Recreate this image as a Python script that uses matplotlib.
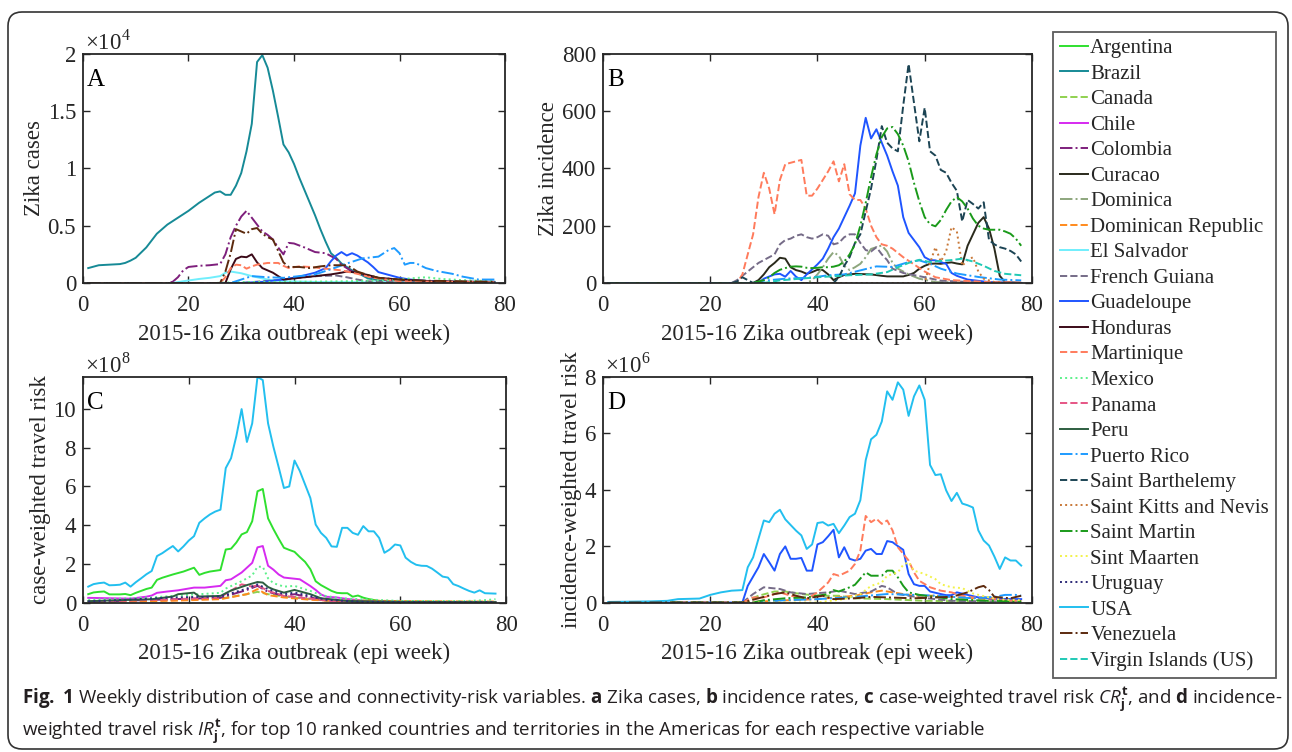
"""
Zika 周报分布图 (Fig. 1): 病例、发病率、病例加权旅行风险、发病率加权旅行风险。
"""

import numpy as np
import matplotlib

matplotlib.use("Agg")
import matplotlib.pyplot as plt
import matplotlib.font_manager as fm
from matplotlib.lines import Line2D
from matplotlib.patches import FancyBboxPatch
from matplotlib.ticker import FuncFormatter
from matplotlib.transforms import IdentityTransform

SERIF = "Liberation Serif"
CAPTION = "Open Sans"
try:
    fm.findfont(CAPTION, fallback_to_default=False)
except Exception:
    CAPTION = "Liberation Sans"

plt.rcParams["font.family"] = [SERIF, "DejaVu Serif"]
plt.rcParams["mathtext.fontset"] = "custom"
plt.rcParams["mathtext.rm"] = SERIF
plt.rcParams["mathtext.it"] = f"{CAPTION}:italic"
plt.rcParams["mathtext.bf"] = f"{CAPTION}:bold"

# ── 数据 (week, value) ───────────────────────────────────────────────

# A: Zika cases
cases_brazil = [(1, 1300), (3, 1550), (5, 1600), (7, 1650), (8, 1750), (9, 1950), (10, 2200),
                (11, 2650), (12, 3100), (14, 4300), (16, 5100), (18, 5700), (20, 6300), (22, 7000),
                (24, 7600), (25, 7900), (26, 8000), (27, 7700), (28, 7700), (29, 8500), (30, 9600),
                (31, 11500), (32, 13900), (33, 19300), (34, 19900), (35, 18800), (36, 16800),
                (37, 14500), (38, 12100), (39, 11400), (40, 10400), (41, 9200), (42, 8100),
                (43, 7000), (44, 5900), (45, 4700), (46, 3600), (47, 2600), (48, 2200), (49, 1700),
                (50, 1400), (51, 1100), (52, 900), (54, 400), (56, 250), (60, 150), (70, 100),
                (78, 100)]
cases_colombia = [(1, 0), (16, 0), (17, 100), (18, 500), (19, 1100), (20, 1400), (22, 1500),
                  (24, 1550), (26, 1650), (27, 2500), (28, 4000), (29, 5000), (30, 5800),
                  (31, 6300), (32, 5700), (33, 5100), (34, 4500), (35, 4200), (36, 3800),
                  (37, 3100), (38, 2500), (39, 3500), (40, 3450), (42, 3100), (44, 2700),
                  (46, 2600), (48, 2100), (49, 1600), (51, 1000), (54, 600), (57, 300), (62, 150),
                  (78, 100)]
cases_venezuela = [(1, 0), (26, 0), (27, 1000), (28, 2600), (29, 4700), (30, 4500), (31, 4300),
                   (32, 4700), (33, 4800), (34, 4300), (35, 4000), (36, 3800), (37, 2800),
                   (38, 1800), (39, 1400), (41, 1400), (43, 1300), (45, 1450), (47, 1550),
                   (49, 1550), (50, 1550), (51, 1300), (52, 1000), (54, 700), (56, 450), (60, 300),
                   (65, 200), (78, 100)]
cases_honduras = [(1, 0), (27, 0), (28, 1200), (29, 2100), (30, 2300), (31, 2250), (32, 2500),
                  (33, 1800), (34, 1300), (35, 1100), (36, 900), (38, 300), (41, 450), (44, 600),
                  (47, 750), (49, 900), (50, 1000), (52, 900), (54, 700), (56, 450), (60, 300),
                  (66, 150), (78, 50)]
cases_martinique = [(1, 0), (26, 0), (27, 500), (28, 1300), (29, 1600), (30, 1550), (31, 1250),
                    (32, 1450), (33, 1600), (35, 1750), (37, 1750), (38, 1500), (39, 1300),
                    (41, 1450), (43, 1400), (45, 1300), (47, 1200), (49, 1100), (50, 1000),
                    (52, 800), (55, 450), (60, 150), (78, 50)]
cases_el_salvador = [(1, 0), (17, 0), (19, 150), (22, 350), (24, 450), (26, 600), (27, 900),
                     (28, 1000), (30, 850), (32, 600), (35, 300), (38, 150), (45, 80), (78, 50)]
cases_guadeloupe = [(1, 0), (30, 0), (34, 100), (38, 300), (41, 550), (44, 900), (46, 1300),
                    (47, 1900), (48, 2400), (49, 2700), (50, 2400), (51, 2600), (52, 2400),
                    (53, 2100), (54, 1800), (55, 1400), (56, 950), (58, 700), (60, 450), (62, 300),
                    (66, 150), (73, 50), (78, 20)]
cases_puerto_rico = [(1, 0), (28, 0), (30, 300), (32, 600), (35, 500), (38, 450), (41, 600),
                     (44, 750), (47, 1200), (50, 1700), (53, 2150), (56, 2300), (57, 2600),
                     (58, 2900), (59, 3050), (60, 2600), (61, 1600), (62, 1750), (63, 1750),
                     (65, 1300), (67, 1050), (70, 800), (72, 550), (75, 300), (78, 300)]
cases_french_guiana = [(1, 0), (30, 0), (34, 150), (38, 300), (42, 500), (45, 620), (48, 650),
                       (50, 500), (52, 300), (54, 150), (60, 50), (78, 20)]
cases_mexico = [(1, 0), (25, 0), (30, 80), (40, 100), (50, 150), (58, 250), (62, 400), (65, 500),
                (68, 350), (72, 250), (78, 150)]

# B: Zika incidence
inc_martinique = [(1, 0), (25, 0), (26, 30), (27, 100), (28, 170), (29, 300), (30, 385), (31, 330),
                  (32, 240), (33, 360), (34, 415), (35, 420), (36, 425), (37, 430), (38, 305),
                  (39, 305), (40, 330), (41, 360), (42, 390), (43, 425), (44, 355), (45, 415),
                  (46, 310), (47, 290), (48, 290), (49, 260), (50, 200), (51, 160), (52, 135),
                  (53, 130), (54, 120), (56, 90), (58, 65), (60, 40), (62, 20), (65, 10), (72, 3),
                  (78, 2)]
inc_french_guiana = [(1, 0), (24, 0), (25, 10), (27, 40), (29, 70), (31, 90), (32, 100), (33, 135),
                     (34, 150), (35, 155), (36, 165), (37, 170), (38, 160), (39, 155), (40, 160),
                     (41, 170), (42, 165), (43, 135), (44, 140), (45, 160), (46, 170), (47, 170),
                     (48, 140), (49, 115), (50, 110), (51, 125), (52, 100), (53, 80), (54, 50),
                     (56, 35), (60, 20), (63, 8), (70, 2), (78, 0)]
inc_curacao = [(1, 0), (28, 0), (29, 10), (30, 30), (31, 55), (32, 70), (33, 88), (34, 85), (35, 55),
               (36, 45), (37, 40), (38, 32), (39, 38), (40, 46), (41, 45), (42, 30), (43, 10),
               (44, 20), (45, 28), (47, 32), (50, 30), (52, 25), (53, 23), (56, 23), (57, 28),
               (58, 35), (59, 50), (60, 60), (61, 67), (62, 68), (63, 67), (64, 70), (65, 72),
               (66, 68), (67, 65), (68, 130), (69, 170), (70, 210), (71, 230), (72, 190), (73, 120),
               (74, 25), (75, 3), (78, 0)]
inc_guadeloupe = [(1, 0), (29, 0), (30, 15), (32, 30), (33, 32), (34, 22), (35, 42), (36, 22),
                  (37, 10), (38, 30), (40, 65), (41, 85), (42, 120), (43, 160), (44, 190), (45, 230),
                  (46, 270), (47, 313), (48, 480), (49, 577), (50, 505), (51, 537), (52, 490),
                  (53, 445), (54, 390), (55, 340), (56, 230), (57, 175), (58, 150), (59, 125),
                  (60, 90), (61, 80), (62, 79), (64, 67), (65, 35), (66, 25), (68, 12), (72, 3),
                  (78, 0)]
inc_saint_martin = [(1, 0), (28, 0), (30, 10), (31, 20), (32, 35), (33, 46), (34, 52), (35, 57),
                    (36, 58), (37, 57), (38, 53), (39, 52), (40, 53), (41, 55), (42, 55), (43, 57),
                    (44, 62), (45, 75), (46, 100), (47, 135), (48, 200), (49, 280), (50, 370),
                    (51, 450), (52, 510), (53, 540), (54, 545), (55, 520), (56, 480), (57, 425),
                    (58, 350), (59, 285), (60, 230), (61, 205), (62, 198), (63, 220), (64, 255),
                    (65, 285), (66, 300), (67, 285), (68, 260), (69, 225), (70, 200), (71, 190),
                    (72, 186), (74, 186), (75, 180), (76, 172), (77, 155), (78, 130)]
inc_saint_barthelemy = [(1, 0), (24, 0), (25, 5), (26, 20), (27, 10), (28, 0), (43, 0), (44, 20),
                        (45, 60), (46, 90), (47, 140), (48, 170), (49, 250), (50, 330), (51, 430),
                        (52, 548), (53, 490), (54, 470), (55, 460), (56, 620), (57, 765),
                        (58, 630), (59, 495), (60, 612), (61, 460), (62, 445), (63, 395),
                        (64, 385), (65, 350), (66, 322), (67, 215), (68, 290), (69, 276),
                        (70, 260), (71, 282), (72, 150), (73, 135), (74, 125), (75, 120),
                        (76, 112), (77, 100), (78, 75)]
inc_dominica = [(1, 0), (38, 0), (39, 10), (40, 30), (41, 55), (42, 85), (43, 108), (44, 95),
                (45, 60), (46, 45), (47, 55), (48, 67), (49, 90), (50, 119), (51, 125), (52, 131),
                (53, 110), (54, 70), (55, 50), (57, 30), (59, 15), (62, 3), (78, 0)]
inc_puerto_rico = [(1, 0), (28, 0), (30, 8), (34, 15), (39, 19), (42, 27), (45, 30), (48, 44),
                   (51, 58), (54, 56), (57, 73), (59, 79), (61, 67), (63, 50), (66, 33), (70, 21),
                   (74, 12), (78, 9)]
inc_virgin_islands = [(1, 0), (30, 0), (33, 9), (40, 20), (46, 27), (50, 30), (53, 38), (55, 55),
                      (57, 70), (59, 81), (61, 73), (63, 77), (65, 80), (67, 85), (69, 75),
                      (71, 60), (73, 42), (75, 32), (78, 27)]
inc_saint_kitts = [(1, 0), (60, 0), (61, 70), (62, 125), (63, 75), (64, 110), (65, 195), (66, 180),
                   (67, 60), (68, 80), (69, 90), (70, 40), (71, 15), (73, 3), (78, 0)]

# C: case-weighted travel risk (x1e8)
cr_usa = [(1, 0.82), (2, 0.95), (3, 1.0), (4, 1.03), (5, 0.89), (6, 0.9), (7, 0.92), (8, 1.03),
          (9, 0.82), (10, 1.05), (11, 1.25), (12, 1.46), (13, 1.63), (14, 2.4), (15, 2.55),
          (16, 2.74), (17, 2.92), (18, 2.64), (19, 2.9), (20, 3.2), (21, 3.43), (22, 4.12),
          (23, 4.35), (24, 4.55), (25, 4.7), (26, 4.8), (27, 6.95), (28, 7.46), (29, 8.6),
          (30, 10.0), (31, 8.3), (32, 9.26), (33, 11.66), (34, 11.5), (35, 9.26), (36, 8.06),
          (37, 7.0), (38, 5.92), (39, 6.0), (40, 7.34), (41, 6.8), (42, 6.1), (43, 5.4),
          (44, 4.03), (45, 3.6), (46, 3.34), (47, 2.9), (48, 2.88), (49, 3.86), (50, 3.86),
          (51, 3.6), (52, 3.5), (53, 3.95), (54, 3.68), (55, 3.68), (56, 3.34), (57, 2.57),
          (58, 2.74), (59, 3.0), (60, 2.95), (61, 2.32), (62, 2.1), (63, 1.95), (64, 1.9),
          (65, 1.89), (66, 1.75), (67, 1.55), (68, 1.34), (69, 1.29), (70, 0.95), (71, 0.85),
          (72, 0.72), (73, 0.6), (74, 0.51), (75, 0.63), (76, 0.48), (77, 0.47), (78, 0.46)]
cr_argentina = [(1, 0.43), (2, 0.52), (3, 0.55), (4, 0.57), (5, 0.42), (7, 0.42), (8, 0.44),
                (9, 0.38), (10, 0.5), (11, 0.6), (12, 0.7), (13, 0.77), (14, 1.17), (15, 1.28),
                (17, 1.45), (19, 1.6), (21, 1.8), (22, 1.43), (23, 1.53), (24, 1.6), (26, 1.68),
                (27, 2.74), (28, 2.78), (29, 3.1), (30, 3.52), (31, 3.64), (32, 4.2), (33, 5.75),
                (34, 5.87), (35, 4.35), (36, 3.8), (37, 3.3), (38, 2.83), (39, 2.72), (40, 2.62),
                (41, 2.35), (42, 2.1), (43, 1.72), (44, 1.1), (45, 0.9), (46, 0.75), (47, 0.6),
                (48, 0.5), (49, 0.48), (50, 0.48), (51, 0.3), (52, 0.36), (53, 0.25), (54, 0.18),
                (56, 0.08), (60, 0.04), (78, 0.02)]
cr_chile = [(1, 0.24), (5, 0.22), (9, 0.2), (12, 0.3), (13, 0.36), (14, 0.5), (16, 0.57),
            (18, 0.63), (21, 0.77), (23, 0.77), (26, 0.86), (27, 1.15), (28, 1.2), (30, 1.55),
            (32, 2.05), (33, 2.85), (34, 2.92), (35, 1.9), (36, 1.7), (37, 1.45), (38, 1.29),
            (40, 1.23), (41, 1.2), (43, 0.85), (44, 0.65), (45, 0.42), (46, 0.3), (48, 0.26),
            (50, 0.18), (53, 0.1), (56, 0.04), (78, 0.02)]
cr_mexico = [(1, 0.14), (13, 0.26), (17, 0.34), (26, 0.5), (27, 0.72), (28, 0.85), (30, 1.1),
             (32, 1.4), (33, 1.85), (34, 1.85), (35, 1.25), (36, 1.0), (38, 0.82), (40, 0.86),
             (42, 0.68), (43, 0.6), (45, 0.38), (48, 0.25), (50, 0.2), (60, 0.08), (72, 0.07),
             (76, 0.12), (78, 0.17)]
cr_peru = [(1, 0.07), (13, 0.17), (17, 0.31), (18, 0.43), (21, 0.51), (22, 0.31), (26, 0.34),
           (28, 0.62), (31, 0.9), (33, 1.06), (34, 1.03), (35, 0.8), (36, 0.68), (38, 0.51),
           (40, 0.65), (43, 0.43), (45, 0.22), (50, 0.08), (60, 0.03), (78, 0.02)]
cr_uruguay = [(1, 0.05), (17, 0.26), (22, 0.29), (26, 0.31), (31, 0.72), (33, 0.94), (35, 0.69),
              (38, 0.43), (40, 0.51), (43, 0.34), (46, 0.14), (53, 0.03), (78, 0.02)]
cr_canada = [(1, 0.03), (17, 0.14), (26, 0.2), (31, 0.43), (33, 0.55), (35, 0.43), (38, 0.31),
             (43, 0.17), (47, 0.07), (60, 0.03), (78, 0.02)]
cr_panama = [(1, 0.03), (17, 0.17), (26, 0.26), (27, 0.45), (30, 0.94), (32, 0.82), (33, 0.89),
             (35, 0.6), (38, 0.34), (43, 0.2), (47, 0.07), (60, 0.03), (78, 0.02)]
cr_dominican_rep = [(1, 0.02), (17, 0.09), (26, 0.17), (31, 0.43), (33, 0.69), (35, 0.38),
                    (38, 0.26), (43, 0.14), (47, 0.09), (54, 0.1), (60, 0.07), (78, 0.05)]
cr_colombia = [(1, 0.03), (17, 0.17), (26, 0.24), (31, 0.65), (33, 0.86), (35, 0.55), (38, 0.34),
               (40, 0.43), (43, 0.26), (46, 0.1), (53, 0.03), (78, 0.02)]

# D: incidence-weighted travel risk (x1e6)
ir_usa = [(1, 0.02), (9, 0.04), (12, 0.06), (14, 0.12), (18, 0.14), (20, 0.27), (22, 0.36),
          (24, 0.42), (26, 0.44), (27, 1.25), (28, 1.6), (29, 2.26), (30, 2.91), (31, 2.85),
          (32, 3.15), (33, 3.29), (34, 2.95), (35, 2.75), (36, 2.55), (37, 2.38), (38, 1.9),
          (39, 2.06), (40, 2.82), (41, 2.85), (42, 2.73), (43, 2.79), (44, 2.46), (45, 2.73),
          (46, 3.03), (47, 3.15), (48, 3.63), (49, 5.05), (50, 5.79), (51, 5.95), (52, 6.42),
          (53, 7.49), (54, 7.19), (55, 7.81), (56, 7.55), (57, 6.62), (58, 7.31), (59, 7.7),
          (60, 7.19), (61, 4.88), (62, 4.52), (63, 4.55), (64, 3.98), (65, 3.6), (66, 3.89),
          (67, 3.51), (68, 3.45), (69, 3.37), (70, 2.56), (71, 2.2), (72, 2.02), (73, 1.63),
          (74, 1.19), (75, 1.6), (76, 1.49), (77, 1.49), (78, 1.31)]
ir_guadeloupe = [(1, 0), (26, 0), (27, 0.59), (29, 1.25), (30, 1.72), (31, 1.43), (32, 1.13),
                 (33, 1.72), (34, 1.99), (35, 1.55), (36, 1.55), (37, 1.58), (38, 1.13), (39, 1.13),
                 (40, 2.06), (41, 2.14), (42, 2.35), (43, 2.58), (44, 1.6), (45, 1.96), (46, 1.55),
                 (47, 1.49), (48, 1.55), (49, 1.84), (50, 1.9), (51, 1.72), (52, 1.72), (53, 2.18),
                 (54, 2.14), (55, 2.0), (56, 1.87), (57, 1.01), (58, 0.65), (59, 0.59), (60, 0.59),
                 (61, 0.39), (63, 0.3), (64, 0.26), (65, 0.26), (66, 0.36), (68, 0.27), (70, 0.18),
                 (73, 0.13), (78, 0.12)]
ir_martinique = [(1, 0), (26, 0), (28, 0.18), (30, 0.18), (33, 0.36), (35, 0.24), (38, 0.12),
                 (40, 0.36), (42, 0.71), (43, 1.01), (44, 0.95), (46, 1.13), (47, 1.37), (48, 1.84),
                 (49, 3.07), (50, 2.85), (51, 2.97), (52, 2.79), (53, 2.91), (54, 2.56), (55, 1.96),
                 (57, 1.49), (58, 1.07), (59, 0.77), (61, 0.54), (63, 0.42), (65, 0.36), (67, 0.24),
                 (69, 0.18), (72, 0.18), (74, 0.08), (78, 0.06)]
ir_sint_maarten = [(1, 0), (40, 0), (45, 0.12), (48, 0.3), (50, 0.59), (52, 0.71), (53, 0.95),
                   (55, 1.07), (56, 1.34), (57, 1.43), (58, 1.13), (60, 1.01), (62, 0.83),
                   (63, 0.65), (65, 0.54), (67, 0.51), (69, 0.32), (72, 0.18), (74, 0.11),
                   (78, 0.08)]
ir_saint_martin = [(1, 0), (28, 0), (30, 0.08), (34, 0.15), (38, 0.18), (42, 0.3), (43, 0.44),
                   (44, 0.39), (46, 0.54), (47, 0.63), (49, 1.07), (50, 0.95), (52, 0.95),
                   (53, 1.13), (54, 1.13), (55, 0.89), (56, 0.59), (57, 0.36), (59, 0.27),
                   (62, 0.2), (65, 0.12), (72, 0.06), (78, 0.04)]
ir_french_guiana = [(1, 0), (26, 0), (28, 0.3), (30, 0.54), (33, 0.48), (35, 0.36), (38, 0.3),
                    (42, 0.36), (44, 0.42), (47, 0.3), (50, 0.39), (52, 0.59), (53, 0.54),
                    (55, 0.3), (59, 0.18), (65, 0.06), (78, 0.02)]
ir_canada = [(1, 0), (26, 0), (29, 0.24), (32, 0.39), (34, 0.39), (37, 0.3), (40, 0.24), (44, 0.24),
             (47, 0.15), (53, 0.12), (60, 0.06), (78, 0.02)]
ir_dominican_rep = [(1, 0), (26, 0), (32, 0.06), (40, 0.12), (47, 0.24), (50, 0.36), (52, 0.42),
                    (54, 0.36), (58, 0.24), (62, 0.24), (65, 0.2), (72, 0.12), (78, 0.08)]
ir_puerto_rico = [(1, 0), (27, 0), (34, 0.08), (40, 0.12), (47, 0.2), (53, 0.3), (58, 0.27),
                  (62, 0.24), (65, 0.2), (69, 0.15), (73, 0.2), (75, 0.27), (77, 0.27), (78, 0.24)]
ir_venezuela = [(1, 0), (26, 0), (29, 0.15), (32, 0.3), (34, 0.36), (36, 0.24), (38, 0.15),
                (41, 0.24), (43, 0.12), (47, 0.15), (50, 0.2), (53, 0.18), (58, 0.15), (62, 0.18),
                (65, 0.2), (68, 0.36), (70, 0.54), (71, 0.59), (72, 0.44), (73, 0.2), (76, 0.15),
                (78, 0.24)]

COUNTRIES = ["Argentina", "Brazil", "Canada", "Chile", "Colombia", "Curacao", "Dominica",
             "Dominican Republic", "El Salvador", "French Guiana", "Guadeloupe", "Honduras",
             "Martinique", "Mexico", "Panama", "Peru", "Puerto Rico", "Saint Barthelemy",
             "Saint Kitts and Nevis", "Saint Martin", "Sint Maarten", "Uruguay", "USA",
             "Venezuela", "Virgin Islands (US)"]

# ── 样式 ──────────────────────────────────────────────────────────────

STYLE = {
    "Argentina": ("#2fe02f", "-"),
    "Brazil": ("#168a96", "-"),
    "Canada": ("#8fd14f", "--"),
    "Chile": ("#d62af0", "-"),
    "Colombia": ("#7e1f7c", "-."),
    "Curacao": ("#2a2a1c", "-"),
    "Dominica": ("#8da67d", "-."),
    "Dominican Republic": ("#ff8a1c", "--"),
    "El Salvador": ("#70eefc", "-"),
    "French Guiana": ("#756b87", "--"),
    "Guadeloupe": ("#1f55ff", "-"),
    "Honduras": ("#3b0a18", "-"),
    "Martinique": ("#ff7b5c", "--"),
    "Mexico": ("#5cf08a", ":"),
    "Panama": ("#e65585", "--"),
    "Peru": ("#2d5e40", "-"),
    "Puerto Rico": ("#1e9bff", "-."),
    "Saint Barthelemy": ("#1c4454", "--"),
    "Saint Kitts and Nevis": ("#c87838", ":"),
    "Saint Martin": ("#1a9a1a", "-."),
    "Sint Maarten": ("#f2f24a", ":"),
    "Uruguay": ("#2d2a78", ":"),
    "USA": ("#22bfef", "-"),
    "Venezuela": ("#5c2a0e", "-."),
    "Virgin Islands (US)": ("#20c9b5", "--"),
}

CASES = {"Brazil": cases_brazil, "Colombia": cases_colombia, "Venezuela": cases_venezuela,
         "Honduras": cases_honduras, "Martinique": cases_martinique,
         "El Salvador": cases_el_salvador, "Guadeloupe": cases_guadeloupe,
         "Puerto Rico": cases_puerto_rico, "French Guiana": cases_french_guiana,
         "Mexico": cases_mexico}
INCIDENCE = {"Martinique": inc_martinique, "French Guiana": inc_french_guiana,
             "Curacao": inc_curacao, "Guadeloupe": inc_guadeloupe,
             "Saint Martin": inc_saint_martin, "Saint Barthelemy": inc_saint_barthelemy,
             "Dominica": inc_dominica, "Puerto Rico": inc_puerto_rico,
             "Virgin Islands (US)": inc_virgin_islands, "Saint Kitts and Nevis": inc_saint_kitts}
CASE_RISK = {"USA": cr_usa, "Argentina": cr_argentina, "Chile": cr_chile, "Mexico": cr_mexico,
             "Peru": cr_peru, "Uruguay": cr_uruguay, "Canada": cr_canada, "Panama": cr_panama,
             "Dominican Republic": cr_dominican_rep, "Colombia": cr_colombia}
INC_RISK = {"USA": ir_usa, "Guadeloupe": ir_guadeloupe, "Martinique": ir_martinique,
            "Sint Maarten": ir_sint_maarten, "Saint Martin": ir_saint_martin,
            "French Guiana": ir_french_guiana, "Canada": ir_canada,
            "Dominican Republic": ir_dominican_rep, "Puerto Rico": ir_puerto_rico,
            "Venezuela": ir_venezuela}

FS = 16.5
LEG_FS = 15.0
TXT = "#262626"
LW = 1.4
XLABEL = "2015-16 Zika outbreak (epi week)"


def draw_panel(ax, table, scale, exp, ymax, yticks, ylabel, letter):
    for name in COUNTRIES:
        if name not in table:
            continue
        weeks, vals = zip(*table[name])
        color, ls = STYLE[name]
        ax.plot(weeks, np.array(vals) * scale, color=color, linestyle=ls, linewidth=LW)

    ax.set_xlim(0, 80)
    ax.set_ylim(0, ymax)
    ax.set_xticks([0, 20, 40, 60, 80])
    ax.set_yticks(yticks)
    ax.yaxis.set_major_formatter(FuncFormatter(lambda v, _: f"{v / 10 ** exp:g}"))
    ax.tick_params(direction="in", top=True, right=True, length=5, width=1,
                   labelsize=FS, colors=TXT)
    ax.tick_params(axis="x", pad=9)
    ax.tick_params(axis="y", pad=5)
    for s in ax.spines.values():
        s.set_linewidth(1.3)
        s.set_color(TXT)
    ax.set_xlabel(XLABEL, fontsize=FS, color=TXT, labelpad=5)
    ax.set_ylabel(ylabel, fontsize=FS, color=TXT, labelpad=2)
    ax.text(0.01, 0.86, letter, transform=ax.transAxes, fontsize=18, color="black",
            va="baseline", ha="left")
    if exp:
        ax.text(0.005, 1.02, "×10$^{%d}$" % exp, transform=ax.transAxes, fontsize=FS,
                color=TXT, va="baseline", ha="left")


fig = plt.figure(figsize=(12.92, 7.52), dpi=100)

ax_a = fig.add_axes([0.0642, 0.6237, 0.3267, 0.3045])
ax_b = fig.add_axes([0.4667, 0.6237, 0.3320, 0.3045])
ax_c = fig.add_axes([0.0642, 0.1988, 0.3275, 0.2999])
ax_d = fig.add_axes([0.4667, 0.1988, 0.3320, 0.2999])

draw_panel(ax_a, CASES, 1, 4, 2.0e4, [0, 5000, 10000, 15000, 20000], "Zika cases", "A")
draw_panel(ax_b, INCIDENCE, 1, 0, 800, [0, 200, 400, 600, 800], "Zika incidence", "B")
draw_panel(ax_c, CASE_RISK, 1e8, 8, 11.66e8, [0, 2e8, 4e8, 6e8, 8e8, 10e8],
           "case-weighted travel risk", "C")
draw_panel(ax_d, INC_RISK, 1e6, 6, 8e6, [0, 2e6, 4e6, 6e6, 8e6],
           "incidence-weighted travel risk", "D")

# ── 图例 ──
handles = [Line2D([], [], color=STYLE[n][0], linestyle=STYLE[n][1], linewidth=LW)
           for n in COUNTRIES]
leg = fig.legend(handles, COUNTRIES, loc="upper left",
                 bbox_to_anchor=(1053 / 1292, 1 - 32 / 752), bbox_transform=fig.transFigure,
                 frameon=True, fancybox=False, edgecolor="#333333", fontsize=LEG_FS,
                 handlelength=1.35, handletextpad=0.12, labelspacing=0.285,
                 borderpad=0.32, borderaxespad=0)
leg.get_frame().set_linewidth(1.3)
for t in leg.get_texts():
    t.set_color(TXT)

# ── 外框和图注 ──
frame = FancyBboxPatch((8, 3), 1280, 737, boxstyle="round,pad=0,rounding_size=14",
                       transform=IdentityTransform(), facecolor="none",
                       edgecolor="#333333", linewidth=1.2)
fig.add_artist(frame)

cap1 = (r"$\mathbf{Fig.\ 1}$ Weekly distribution of case and connectivity-risk variables. "
        r"$\mathbf{a}$ Zika cases, $\mathbf{b}$ incidence rates, $\mathbf{c}$ case-weighted "
        r"travel risk $\mathit{CR}_{\mathbf{j}}^{\mathbf{t}}$, and $\mathbf{d}$ incidence-")
cap2 = (r"weighted travel risk $\mathit{IR}_{\mathbf{j}}^{\mathbf{t}}$, for top 10 ranked "
        r"countries and territories in the Americas for each respective variable")
t1 = fig.text(22 / 1292, 1 - 699 / 752, cap1, fontsize=13, family=CAPTION, color="#231f20",
              va="center", ha="left")
t2 = fig.text(22 / 1292, 1 - 731 / 752, cap2, fontsize=13, family=CAPTION, color="#231f20",
              va="center", ha="left")

# 图注第一行宽度与原图一致 (约 1261 px)
renderer = fig.canvas.get_renderer()
w1 = t1.get_window_extent(renderer).width
cap_fs = 13 * 1261 / w1
t1.set_fontsize(cap_fs)
t2.set_fontsize(cap_fs)

fig.savefig("out.png", dpi=100)
